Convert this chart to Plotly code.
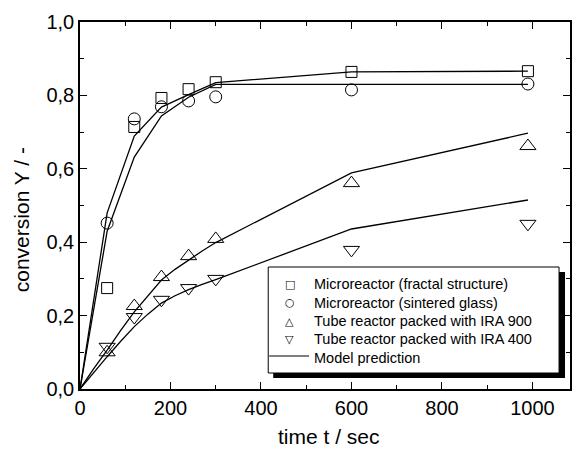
import plotly.graph_objects as go

# ---- data ----
t_exp = [60, 120, 180, 240, 300, 600, 990]
y_fractal = [0.275, 0.714, 0.793, 0.817, 0.836, 0.864, 0.866]
y_sintered = [0.452, 0.736, 0.769, 0.785, 0.796, 0.815, 0.831]
y_ira900 = [0.100, 0.226, 0.305, 0.362, 0.409, 0.561, 0.662]
y_ira400 = [0.115, 0.196, 0.243, 0.275, 0.300, 0.379, 0.450]

t_model_micro = [0, 60, 120, 180, 240, 300, 600, 990]
m_fractal = [0.0, 0.48, 0.689, 0.768, 0.802, 0.835, 0.864, 0.866]
m_sintered = [0.0, 0.43, 0.632, 0.744, 0.795, 0.830, 0.830, 0.830]

t_model_tube = [0, 30, 60, 90, 120, 150, 180, 210, 240, 270, 300, 600, 990]
m_ira900 = [0.0, 0.055, 0.106, 0.160, 0.210, 0.255, 0.297, 0.326, 0.352, 0.376, 0.399, 0.589, 0.697]
m_ira400 = [0.0, 0.045, 0.088, 0.130, 0.170, 0.204, 0.234, 0.254, 0.271, 0.285, 0.298, 0.436, 0.515]

legend_names = ["Microreactor (fractal structure)", "Microreactor (sintered glass)",
                "Tube reactor packed with IRA 900", "Tube reactor packed with IRA 400",
                "Model prediction"]
legend_glyphs = ["\u25A1", "\u25CB", "\u25B3", "\u25BD"]

x_ticks = [0, 200, 400, 600, 800, 1000]
y_ticks = [0, 0.2, 0.4, 0.6, 0.8, 1.0]

W, H = 572, 452
L, R, T, B = 80, 0, 22, 63
pw, ph = W - L - R, H - T - B


def px(x):
    return (x - L) / pw


def py(y):
    return (H - B - y) / ph


FONT = "Liberation Sans, Arial, sans-serif"

fig = go.Figure()
lw = 1.3
for ym in [m_fractal, m_sintered]:
    fig.add_trace(go.Scatter(x=t_model_micro, y=ym, mode="lines",
                             line=dict(color="black", width=lw), showlegend=False))
for ym in [m_ira900, m_ira400]:
    fig.add_trace(go.Scatter(x=t_model_tube, y=ym, mode="lines",
                             line=dict(color="black", width=lw), showlegend=False))

syms = ["square-open", "circle-open", "triangle-up-open", "triangle-down-open"]
sizes = [11, 12, 14, 14]
for ys, s, sz in zip([y_fractal, y_sintered, y_ira900, y_ira400], syms, sizes):
    fig.add_trace(go.Scatter(x=t_exp, y=ys, mode="markers",
                             marker=dict(symbol=s, size=sz, color="black", line=dict(width=1)),
                             showlegend=False))

# ---- manual legend with shadow ----
fig.add_shape(type="rect", xref="paper", yref="paper",
              x0=px(274), x1=px(567), y0=py(378), y1=py(272),
              fillcolor="black", line=dict(width=0), layer="above")
fig.add_shape(type="rect", xref="paper", yref="paper",
              x0=px(269), x1=px(561), y0=py(373), y1=py(267),
              fillcolor="white", line=dict(color="black", width=1), layer="above")
row_y = [284, 302.7, 321, 339.3, 357.7]
for name, yy in zip(legend_names, row_y):
    fig.add_annotation(x=px(313), y=py(yy), xref="paper", yref="paper", text=name,
                       showarrow=False, xanchor="left", yanchor="middle",
                       font=dict(family=FONT, size=14.5, color="black"))
for g, yy in zip(legend_glyphs, row_y[:4]):
    fig.add_annotation(x=px(290.5), y=py(yy), xref="paper", yref="paper", text=g,
                       showarrow=False, xanchor="center", yanchor="middle",
                       font=dict(family="DejaVu Sans", size=11, color="black"))
fig.add_shape(type="line", xref="paper", yref="paper",
              x0=px(270), x1=px(310), y0=py(356), y1=py(356),
              line=dict(color="black", width=1.2), layer="above")

# ---- axis titles ----
fig.add_annotation(x=px(330), y=py(436), xref="paper", yref="paper", text="time t / sec",
                   showarrow=False, xanchor="center", yanchor="middle",
                   font=dict(family=FONT, size=21, color="black"))
fig.add_annotation(x=px(21), y=py(220), xref="paper", yref="paper", text="conversion Y / -",
                   showarrow=False, xanchor="center", yanchor="middle", textangle=-90,
                   font=dict(family=FONT, size=21, color="black"))

def axis(minor_dtick):
    return dict(showline=True, linecolor="black", linewidth=1.5, mirror="ticks",
                ticks="inside", ticklen=7, tickwidth=1.2, tickcolor="black",
                showgrid=False, zeroline=False,
                tickfont=dict(family=FONT, size=20, color="black"),
                minor=dict(ticks="inside", ticklen=4, tickwidth=1.2, tickcolor="black",
                           dtick=minor_dtick, tick0=0))

fig.update_layout(
    width=W, height=H,
    margin=dict(l=L, r=R, t=T, b=B),
    paper_bgcolor="white", plot_bgcolor="white",
    separators=",.",
    showlegend=False,
    font=dict(family=FONT, color="black"),
    xaxis=dict(range=[0, 1083], tickvals=x_ticks, **axis(100)),
    yaxis=dict(range=[0, 1.0], tickvals=y_ticks, tickformat=".1f", **axis(0.1)),
)

fig.write_html("out.html")
